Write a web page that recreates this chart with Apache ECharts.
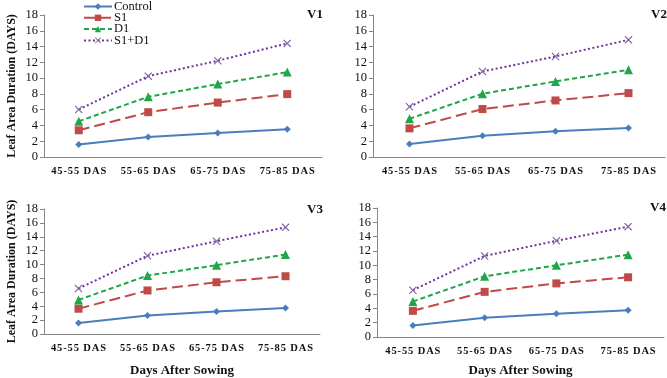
<!DOCTYPE html>
<html>
<head>
<meta charset="utf-8">
<script src="https://cdn.jsdelivr.net/npm/echarts@6/dist/echarts.min.js"></script>
<style>
  html, body { margin: 0; padding: 0; background: #fff; }
  #chart { width: 667px; height: 378px; }
</style>
</head>
<body>
<div id="chart"></div>
<script>
// data
const categories = ['45-55 DAS', '55-65 DAS', '65-75 DAS', '75-85 DAS'];
const seriesNames = ['Control', 'S1', 'D1', 'S1+D1'];
const panelNames = ['V1', 'V2', 'V3', 'V4'];

const v1Control = [1.57, 2.55, 3.05, 3.52];
const v1S1 = [3.39, 5.68, 6.9, 7.97];
const v1D1 = [4.53, 7.63, 9.24, 10.76];
const v1S1D1 = [6.02, 10.25, 12.2, 14.4];

const v2Control = [1.65, 2.7, 3.25, 3.67];
const v2S1 = [3.63, 6.08, 7.17, 8.1];
const v2D1 = [4.85, 8.02, 9.58, 11.05];
const v2S1D1 = [6.37, 10.84, 12.74, 14.85];

const v3Control = [1.6, 2.68, 3.23, 3.73];
const v3S1 = [3.64, 6.27, 7.45, 8.32];
const v3D1 = [4.91, 8.41, 9.91, 11.45];
const v3S1D1 = [6.55, 11.27, 13.36, 15.36];

const v4Control = [1.62, 2.7, 3.24, 3.74];
const v4S1 = [3.65, 6.3, 7.48, 8.33];
const v4D1 = [4.95, 8.47, 10.0, 11.49];
const v4S1D1 = [6.53, 11.31, 13.42, 15.4];

const panelData = [
  [v1Control, v1S1, v1D1, v1S1D1],
  [v2Control, v2S1, v2D1, v2S1D1],
  [v3Control, v3S1, v3D1, v3S1D1],
  [v4Control, v4S1, v4D1, v4S1D1]
];

const serif = '"Liberation Serif", "Times New Roman", serif';
const crossPath = 'path://M0,1L1,0L5,4L9,0L10,1L6,5L10,9L9,10L5,6L1,10L0,9L4,5Z';

const styles = [
  { color: '#4A7EBB', type: 'solid', symbol: 'diamond', size: 7, itemColor: '#4A7EBB' },
  { color: '#BE4B48', type: [11, 5], symbol: 'rect', size: 8, itemColor: '#BE4B48' },
  { color: '#1FA64A', type: [5, 3], symbol: 'triangle', size: 9, itemColor: '#1FA64A' },
  { color: '#7030A0', type: [2, 2.5], symbol: crossPath, size: 8, itemColor: '#8064A2' }
];

// grid boxes for the 4 panels
const grids = [
  { left: 44, top: 15, width: 278, height: 142 },
  { left: 373, top: 15, width: 292, height: 142 },
  { left: 44, top: 209, width: 276, height: 132 },
  { left: 377, top: 208, width: 287, height: 133 }
];
const panelLabelPos = [[302, 3], [646, 3], [302, 198], [645, 196]];

// the tick labels in the figure are letter-spaced
const spaced = (txt) => txt.split('').join('\u200A');

const xAxes = [];
const yAxes = [];
const series = [];
const titles = [];

grids.forEach((g, i) => {
  xAxes.push({
    type: 'category',
    gridIndex: i,
    data: categories,
    boundaryGap: true,
    axisLine: { lineStyle: { color: '#868686', width: 1 } },
    axisTick: { show: false },
    axisLabel: { interval: 0, margin: 9, color: '#111', fontFamily: serif, fontWeight: 'bold', fontSize: 10.5, formatter: spaced },
    name: i >= 2 ? 'Days After Sowing' : '',
    nameLocation: 'middle',
    nameGap: i === 2 ? 30 : 27,
    nameTextStyle: { color: '#111', fontFamily: serif, fontWeight: 'bold', fontSize: 13 }
  });
  yAxes.push({
    type: 'value',
    gridIndex: i,
    min: 0,
    max: 18,
    interval: 2,
    splitLine: { show: false },
    axisLine: { show: true, lineStyle: { color: '#868686', width: 1 } },
    axisTick: { show: true, length: 4, lineStyle: { color: '#868686' } },
    axisLabel: { margin: 6, color: '#111', fontFamily: serif, fontSize: 12.5 },
    name: (i === 0 || i === 2) ? 'Leaf Area Duration (DAYS)' : '',
    nameLocation: 'middle',
    nameRotate: 90,
    nameGap: 26,
    nameTextStyle: { color: '#111', fontFamily: serif, fontWeight: 'bold', fontSize: 12 }
  });
  titles.push({
    text: panelNames[i],
    left: panelLabelPos[i][0],
    top: panelLabelPos[i][1],
    textStyle: { fontFamily: serif, fontWeight: 'bold', fontSize: 13, color: '#111' }
  });
  panelData[i].forEach((vals, k) => {
    const s = styles[k];
    series.push({
      name: seriesNames[k],
      type: 'line',
      xAxisIndex: i,
      yAxisIndex: i,
      data: vals,
      symbol: s.symbol,
      symbolSize: s.size,
      lineStyle: { color: s.color, width: 2, type: s.type },
      itemStyle: { color: s.itemColor },
      animation: false
    });
  });
});

// one legend per row so the rows can sit as tight as in the figure
const legends = seriesNames.map((name, k) => ({
  left: 78,
  top: -5 + k * 11.3,
  padding: 5,
  itemWidth: 28,
  itemHeight: 8,
  data: [name],
  textStyle: { fontFamily: serif, fontSize: 12.5, color: '#111', padding: [0, 0, 0, -3] }
}));

const chart = echarts.init(document.getElementById('chart'));
chart.setOption({
  backgroundColor: '#fff',
  title: titles,
  legend: legends,
  grid: grids,
  xAxis: xAxes,
  yAxis: yAxes,
  series: series
});
</script>
</body>
</html>
